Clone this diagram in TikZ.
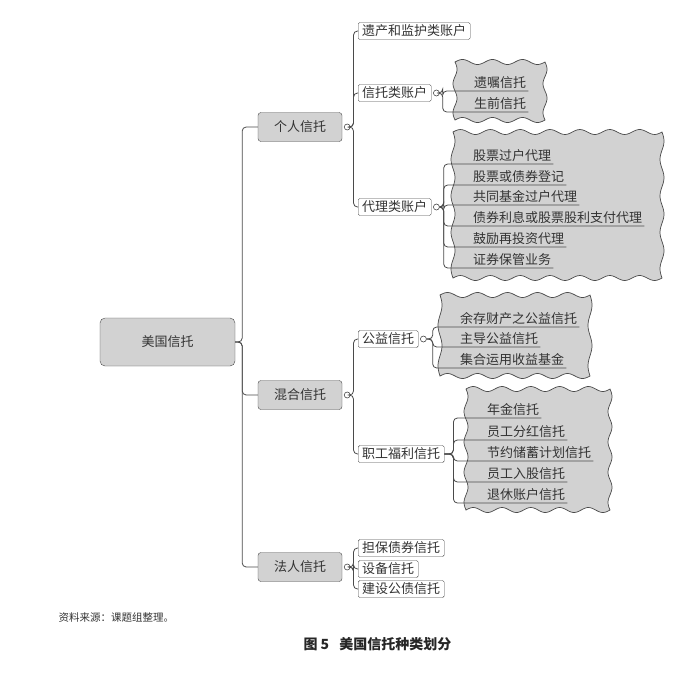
\documentclass[tikz,border=0pt]{standalone}
\usepackage{fontspec}
\newfontfamily\cjk{Noto Sans CJK SC}

\definecolor{linec}{HTML}{4A4A4A}
\definecolor{boxgray}{HTML}{D2D2D2}
\definecolor{textc}{HTML}{333333}

\tikzset{
  rootbox/.style={draw=linec, fill=boxgray, rounded corners=5, minimum width=135, minimum height=48, text=textc, font=\cjk\fontsize{13}{15}\selectfont},
  topicbox/.style={draw=linec, fill=boxgray, rounded corners=3, minimum width=84, minimum height=29, text=textc, font=\cjk\fontsize{13}{15}\selectfont},
  subbox/.style={draw=linec, fill=white, rounded corners=1.5, inner xsep=4, inner ysep=0, minimum height=17, anchor=west, text=textc, font=\cjk\fontsize{13}{15}\selectfont},
  leaf/.style={inner xsep=2, inner ysep=2, anchor=south west, text=textc, font=\cjk\fontsize{13}{15}\selectfont},
  fold/.style={circle, draw=linec, fill=white, inner sep=0, minimum size=6, line width=0.6},
  wave/.style={draw=linec, fill=boxgray, line width=0.7},
  link/.style={draw=linec, line width=0.8, rounded corners=4}
}

% wavy background: x1, y1, x2, y2
\newcommand\wavybox[4]{%
  \pgfmathsetmacro\kwx{360/((#3-#1)/max(1,round((#3-#1)/30)))}%
  \pgfmathsetmacro\kwy{360/((#4-#2)/max(1,round((#4-#2)/34)))}%
  \draw[wave] plot[domain=#1:#3,samples=90,smooth] (\x,{#2-2.5*sin(\kwx*(\x-#1))})
    -- plot[domain=#2:#4,samples=70,smooth] ({#3+2*sin(\kwy*(\x-#2))},\x)
    -- plot[domain=#3:#1,samples=90,smooth] (\x,{#4-2.5*sin(\kwx*(\x-#1))})
    -- plot[domain=#4:#2,samples=70,smooth] ({#1+2*sin(\kwy*(\x-#2))},\x) -- cycle;}

\begin{document}
\begin{tikzpicture}[x=1pt,y=-1pt]
  \useasboundingbox (0,0) rectangle (700,673);

  % wavy backgrounds
  \wavybox{455}{62}{545}{120}
  \wavybox{453}{132}{662}{278}
  \wavybox{440}{295}{590}{376}
  \wavybox{466}{389}{610}{510}

  % main topics
  \node[rootbox] (root) at (167.5,342) {美国信托};
  \node[topicbox] (ps) at (300,127) {个人信托};
  \node[topicbox] (mx) at (300,395) {混合信托};
  \node[topicbox] (co) at (300,567) {法人信托};

  \draw[link] (root.east) -- ++(7,0) |- (ps.west);
  \draw[link] (root.east) -- ++(7,0) |- (mx.west);
  \draw[link] (root.east) -- ++(7,0) |- (co.west);

  \node[fold] (fps) at ([xshift=5]ps.east) {};
  \node[fold] (fmx) at ([xshift=5]mx.east) {};
  \node[fold] (fco) at ([xshift=5]co.east) {};

  % sub topics
  \node[subbox] (estate) at (358,31) {遗产和监护类账户};
  \node[subbox] (trustacc) at (358,93) {信托类账户};
  \node[subbox] (agency) at (358,207) {代理类账户};
  \node[subbox] (public) at (358,339) {公益信托};
  \node[subbox] (welfare) at (358,454) {职工福利信托};
  \node[subbox] (bond) at (358,548) {担保债券信托};
  \node[subbox] (equip) at (358,569) {设备信托};
  \node[subbox] (build) at (358,589) {建设公债信托};

  \foreach \c in {estate,trustacc,agency}
    \draw[link] (fps.east) -- ++(3,0) |- (\c.west);
  \draw[link] (fmx.east) -- ++(3,0) |- (public.west);
  \draw[link] (fmx.east) -- ++(3,0) |- (welfare.west);
  \foreach \c in {bond,equip,build}
    \draw[link] (fco.east) -- ++(3,0) |- (\c.west);

  \node[fold] (ftrust) at ([xshift=5]trustacc.east) {};
  \node[fold] (fagency) at ([xshift=5]agency.east) {};
  \node[fold] (fpublic) at ([xshift=5]public.east) {};

  % leaves
  \node[leaf] (will) at (472,91) {遗嘱信托};
  \node[leaf] (living) at (472,112) {生前信托};
  \foreach \c in {will,living}
    \draw[link] (ftrust.east) -- ++(3,0) |- (\c.south west) -- (\c.south east);

  \node[leaf] (ag1) at (471,164) {股票过户代理};
  \node[leaf] (ag2) at (471,185) {股票或债券登记};
  \node[leaf] (ag3) at (471,205) {共同基金过户代理};
  \node[leaf] (ag4) at (471,226) {债券利息或股票股利支付代理};
  \node[leaf] (ag5) at (471,247) {鼓励再投资代理};
  \node[leaf] (ag6) at (471,268) {证券保管业务};
  \foreach \c in {ag1,ag2,ag3,ag4,ag5,ag6}
    \draw[link] (fagency.east) -- ++(4,0) |- (\c.south west) -- (\c.south east);

  \node[leaf] (pb1) at (458,327) {余存财产之公益信托};
  \node[leaf] (pb2) at (458,347) {主导公益信托};
  \node[leaf] (pb3) at (458,368) {集合运用收益基金};
  \foreach \c in {pb1,pb2,pb3}
    \draw[link] (fpublic.east) -- ++(6,0) |- (\c.south west) -- (\c.south east);

  \node[leaf] (wf1) at (485,418) {年金信托};
  \node[leaf] (wf2) at (485,440) {员工分红信托};
  \node[leaf] (wf3) at (485,461) {节约储蓄计划信托};
  \node[leaf] (wf4) at (485,482) {员工入股信托};
  \node[leaf] (wf5) at (485,503) {退休账户信托};
  \foreach \c in {wf1,wf2,wf3,wf4,wf5}
    \draw[link] (welfare.east) -- ++(9,0) |- (\c.south west) -- (\c.south east);

  % captions
  \node[anchor=west, text=textc, font=\cjk\fontsize{10.5}{12}\selectfont] (src) at (55,618) {资料来源：课题组整理。};
  \node[anchor=west, text=black!85, font=\cjk\bfseries\fontsize{14}{16}\selectfont] (cap) at (300,644) {图 5\hspace{10pt}美国信托种类划分};
\end{tikzpicture}
\end{document}
